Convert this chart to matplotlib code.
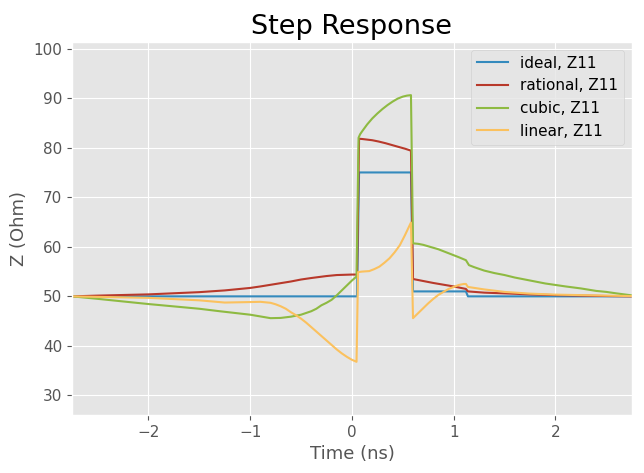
import numpy as np
import matplotlib
matplotlib.use("Agg")
import matplotlib.pyplot as plt

plt.style.use("ggplot")

# values (time in ns, impedance in Ohm)
t_ideal = [-2.75, 0.05, 0.07, 0.58, 0.60, 1.12, 1.14, 2.75]
z_ideal = [50.0, 50.0, 75.0, 75.0, 51.0, 51.0, 50.0, 50.0]

t_rational = [-2.75, -2.5, -2.0, -1.5, -1.25, -1.0, -0.9, -0.75, -0.6, -0.5,
              -0.4, -0.25, -0.15, 0.0, 0.05, 0.07, 0.1, 0.2, 0.26, 0.33,
              0.39, 0.45, 0.52, 0.58, 0.60, 0.7, 0.8, 0.9, 1.0, 1.12,
              1.14, 1.3, 1.5, 1.75, 2.0, 2.4, 2.75]
z_rational = [50.0, 50.15, 50.4, 50.85, 51.2, 51.7, 52.0, 52.5, 53.0, 53.4,
              53.7, 54.1, 54.3, 54.4, 54.4, 81.8, 81.75, 81.5, 81.25, 80.9,
              80.55, 80.2, 79.8, 79.4, 53.5, 53.1, 52.7, 52.35, 52.0, 51.5,
              51.0, 50.75, 50.6, 50.4, 50.25, 50.1, 50.0]

t_cubic = [-2.75, -2.5, -2.0, -1.5, -1.3, -1.0, -0.8, -0.7, -0.6, -0.5,
           -0.4, -0.35, -0.3, -0.25, -0.2, -0.15, -0.1, -0.05, 0.0, 0.045,
           0.065, 0.08, 0.1, 0.15, 0.2, 0.25, 0.3, 0.35, 0.4, 0.45,
           0.5, 0.54, 0.58, 0.60, 0.65, 0.7, 0.75, 0.8, 0.85, 0.9,
           0.95, 1.0, 1.05, 1.12, 1.15, 1.2, 1.3, 1.4, 1.5, 1.6,
           1.75, 1.9, 2.0, 2.1, 2.25, 2.4, 2.5, 2.6, 2.75]
z_cubic = [50.0, 49.5, 48.45, 47.5, 47.0, 46.3, 45.6, 45.65, 45.9, 46.3,
           47.0, 47.5, 48.2, 48.7, 49.3, 50.2, 51.2, 52.2, 53.2, 54.0,
           82.0, 82.7, 83.3, 84.7, 85.9, 86.9, 87.8, 88.6, 89.3, 89.9,
           90.3, 90.5, 90.6, 60.7, 60.6, 60.4, 60.1, 59.8, 59.5, 59.1,
           58.7, 58.3, 57.9, 57.3, 56.3, 55.9, 55.2, 54.7, 54.3, 53.8,
           53.2, 52.6, 52.3, 52.0, 51.6, 51.1, 50.9, 50.6, 50.2]

t_linear = [-2.75, -2.5, -2.0, -1.5, -1.25, -1.0, -0.9, -0.8, -0.75, -0.7,
            -0.65, -0.6, -0.55, -0.5, -0.45, -0.4, -0.35, -0.3, -0.25, -0.2,
            -0.15, -0.1, -0.05, 0.0, 0.045, 0.06, 0.1, 0.17, 0.22, 0.27,
            0.32, 0.37, 0.42, 0.47, 0.52, 0.58, 0.60, 0.62, 0.65, 0.7,
            0.75, 0.8, 0.85, 0.9, 0.95, 1.0, 1.05, 1.1, 1.12, 1.14,
            1.3, 1.5, 1.75, 2.0, 2.5, 2.75]
z_linear = [50.0, 49.9, 49.7, 49.2, 48.75, 48.85, 48.9, 48.7, 48.4, 48.0,
            47.5, 46.8, 46.2, 45.5, 44.7, 43.8, 42.9, 42.0, 41.1, 40.2,
            39.3, 38.5, 37.8, 37.2, 36.8, 54.9, 55.0, 55.1, 55.5, 56.0,
            56.8, 57.7, 58.9, 60.3, 62.3, 64.9, 45.6, 46.0, 46.6, 47.6,
            48.6, 49.5, 50.3, 50.9, 51.5, 51.9, 52.3, 52.5, 52.5, 51.9,
            51.4, 50.9, 50.55, 50.35, 50.15, 50.05]

fig, ax = plt.subplots(figsize=(6.44, 4.73), dpi=100)
fig.subplots_adjust(left=0.112, right=0.981, top=0.911, bottom=0.123)

ax.plot(t_ideal, z_ideal, color="#348ABD", label="ideal, Z11")
ax.plot(t_rational, z_rational, color="#B8392B", label="rational, Z11")
ax.plot(t_cubic, z_cubic, color="#8EBA42", label="cubic, Z11")
ax.plot(t_linear, z_linear, color="#FBC15E", label="linear, Z11")

ax.set_xlim(-2.75, 2.75)
ax.set_ylim(26.1, 101.3)
ax.set_title("Step Response", fontsize=19.5)
ax.set_xlabel("Time (ns)", fontsize=13)
ax.set_ylabel("Z (Ohm)", fontsize=13)
ax.tick_params(labelsize=11)
ax.legend(loc="upper right", fontsize=11)

plt.savefig("out.png", dpi=100)
